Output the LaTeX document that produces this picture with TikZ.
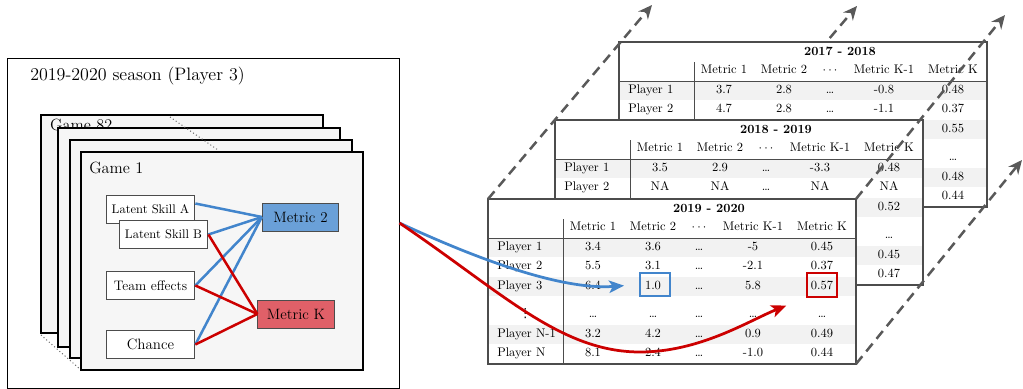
\documentclass[tikz,border=0pt]{standalone}
\usepackage{fontspec}
\usetikzlibrary{arrows.meta,calc}
\newfontfamily\symfont{DejaVu Sans}
\definecolor{cardfill}{gray}{0.965}
\definecolor{rowshade}{gray}{0.95}
\definecolor{edge}{gray}{0.3}
\definecolor{stackgray}{gray}{0.35}
\definecolor{linkblue}{RGB}{66,133,204}
\definecolor{linkred}{RGB}{204,0,0}
\definecolor{fillblue}{RGB}{106,160,216}
\definecolor{fillred}{RGB}{224,96,104}
\tikzset{card/.style={draw=black,fill=cardfill,line width=1pt},
         factor/.style={draw=edge,fill=white,line width=0.8pt,inner sep=0pt,
                        minimum width=71pt,minimum height=23pt},
         metric/.style={draw=edge,line width=0.8pt,inner sep=0pt,font=\large,
                        minimum width=61pt,minimum height=22.4pt},
         bluelink/.style={draw=linkblue,line width=2pt},
         redlink/.style={draw=linkred,line width=2pt},
         cell/.style={inner sep=0pt,text height=1.6ex,text depth=0.35ex},
         cellbox/.style={draw=#1,line width=1.6pt,inner sep=0pt,
                         minimum width=24pt,minimum height=18.6pt},
         stackarrow/.style={draw=stackgray,line width=2pt,dash pattern=on 8pt off 5pt,
                            -{Stealth[length=11pt,width=10pt]}},
         bigarrow/.style={line width=2.2pt,-{Stealth[length=12pt,width=10pt,inset=3pt]}}}

% one season table; #1 shift, #2 title, #3 rows y/label/m1/m2/dots/mK-1/mK
\newcommand{\seasontable}[3]{%
  \begin{scope}[shift={#1}]
    \fill[white] (488,199) rectangle (856,364);
    \fill[rowshade] (488,238) rectangle (856,257);
    \fill[rowshade] (488,277) rectangle (856,296);
    \fill[rowshade] (488,325) rectangle (856,344);
    \draw[edge,line width=0.4pt] (563,219) -- (563,364);
    \draw[edge,line width=0.4pt] (488,238) -- (856,238);
    \node[cell,font=\bfseries] at (709,209) {#2};
    \node[cell] at (593,227) {Metric 1};
    \node[cell] at (653,227) {Metric 2};
    \node[cell] at (699,227) {$\cdots$};
    \node[cell] at (753,227) {Metric K-1};
    \node[cell] at (822,227) {Metric K};
    \foreach \ry/\lab/\va/\vb/\vd/\vc/\vk in {#3}{
      \node[cell,anchor=west] at (497,\ry) {\lab};
      \node[cell] at (593,\ry) {\va};
      \node[cell] at (653,\ry) {\vb};
      \node[cell] at (699,\ry) {\vd};
      \node[cell] at (753,\ry) {\vc};
      \node[cell] at (822,\ry) {\vk};
    }
    \draw[edge,line width=1.6pt] (488,199) rectangle (856,364);
  \end{scope}}

\begin{document}
\begin{tikzpicture}[x=0.8pt,y=-0.8pt]
  \useasboundingbox (0,0) rectangle (1023,389);

  % stack of seasons
  \draw[stackarrow] (693,199) -- (857,6);
  \seasontable{(131,-157)}{2017 - 2018}{
    247/Player 1/3.7/2.8/\dots/-0.8/0.48,
    266/Player 2/4.7/2.8/\dots/-1.1/0.37,
    286/{}/{}/{}/{}/{}/0.55,
    314/{}/{}/{}/{}/{}/\dots,
    334/{}/{}/{}/{}/{}/0.48,
    353/{}/{}/{}/{}/{}/0.44}
  \seasontable{(67,-79)}{2018 - 2019}{
    247/Player 1/3.5/2.9/\dots/-3.3/0.48,
    266/Player 2/NA/NA/\dots/NA/NA,
    286/{}/{}/{}/{}/{}/0.52,
    314/{}/{}/{}/{}/{}/\dots,
    334/{}/{}/{}/{}/{}/0.45,
    353/{}/{}/{}/{}/{}/0.47}
  \seasontable{(0,0)}{2019 - 2020}{
    247/Player 1/3.4/3.6/\dots/-5/0.45,
    266/Player 2/5.5/3.1/\dots/-2.1/0.37,
    286/Player 3/6.4/1.0/\dots/5.8/0.57,
    314/\makebox[45pt]{\symfont ⋮}/\dots/\dots/\dots/\dots/\dots,
    334/Player N-1/3.2/4.2/\dots/0.9/0.49,
    353/Player N/8.1/2.4/\dots/-1.0/0.44}
  \draw[stackarrow] (488,199) -- (652,5);
  \draw[stackarrow] (856,199) -- (1005,15);
  \draw[stackarrow] (856,364) -- (1022,160);
  \node[cellbox=linkblue] (cellA) at (655,284.5) {};
  \node[cellbox=linkred] (cellK) at (822,285) {};

  % season of one player
  \node[draw=black,line width=0.8pt,inner sep=0pt,
        minimum width=313.6pt,minimum height=264pt] (season) at (203,223) {};
  \node[anchor=base west,inner sep=0pt,font=\Large] (title) at (30,80) {2019-2020 season (Player 3)};
  \draw[card] (41,115) rectangle (323,333);
  \node[anchor=base west,inner sep=0pt,font=\fontsize{13}{15}\selectfont] at (50,130) {Game 82};
  \draw[card] (58,128) rectangle (340,347);
  \draw[card] (70,140) rectangle (352,358);
  \draw[black!60,dotted,line width=0.8pt] (170,117) -- (218,150);
  \draw[black!60,dotted,line width=0.8pt] (41,335) -- (81,370);
  \draw[card] (81,152) rectangle (363,370);
  \node[anchor=base west,inner sep=0pt,font=\fontsize{13}{15}\selectfont] at (89,173) {Game 1};

  \node[factor] (lsA) at (150.5,209.5) {Latent Skill A};
  \node[factor] (lsB) at (163.5,234.5) {Latent Skill B};
  \node[factor,font=\fontsize{11}{13}\selectfont] (team) at (150.5,285.5) {Team effects};
  \node[factor,font=\large] (chance) at (150.5,344.5) {Chance};
  \node[metric,fill=fillblue] (m2) at (300.5,217) {Metric 2};
  \node[metric,fill=fillred] (mK) at (296,314) {Metric K};

  \draw[bluelink] ([yshift=4.8pt]lsA.east) -- (m2.west);
  \foreach \src in {lsB,team,chance}
    \draw[bluelink] (\src.east) -- (m2.west);
  \foreach \src in {lsB,team,chance}
    \draw[redlink] (\src.east) -- (mK.west);

  % from the season to the table
  \draw[bigarrow,linkblue,shorten >=12pt] (season.east)
    .. controls +(71,33) and +(-80,6) .. (cellA.west);
  \draw[bigarrow,linkred,shorten >=17pt] (season.east)
    .. controls +(101,68) and +(-80,0) .. (640,352)
    .. controls +(60,0) and +(-57,23) .. (cellK.south west);
\end{tikzpicture}
\end{document}
